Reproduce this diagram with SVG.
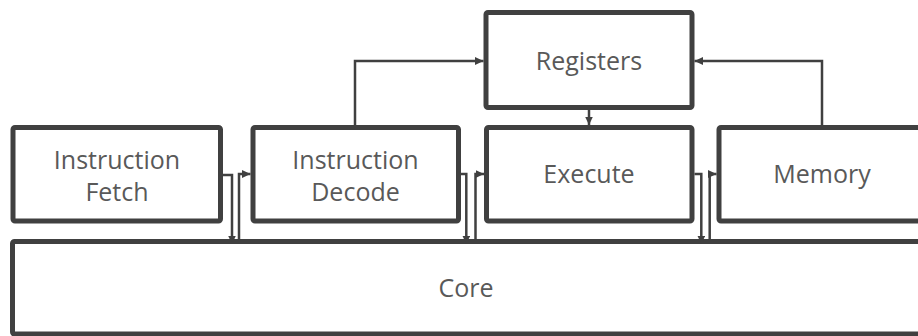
<svg xmlns="http://www.w3.org/2000/svg" width="918" height="336" viewBox="0 0 918 336">
  <style>
    .box { fill: #ffffff; stroke: #404040; stroke-width: 5; }
    .label { font-family: "Open Sans", "Noto Sans", "DejaVu Sans", sans-serif; font-size: 25px; fill: #595959; text-anchor: middle; }
    .wire { fill: none; stroke: #404040; stroke-width: 2.5; }
  </style>
  <defs>
    <marker id="arrow" markerUnits="userSpaceOnUse" markerWidth="9" markerHeight="8" refX="8.5" refY="4" orient="auto">
      <path d="M0,0 L8.5,4 L0,8 z" fill="#404040"/>
    </marker>
  </defs>

  <rect width="918" height="336" fill="#ffffff"/>

  <g id="core">
    <rect class="box" x="12.5" y="241.5" width="912" height="92.5" rx="2"/>
    <text class="label" x="466" y="297">Core</text>
  </g>

  <g id="registers">
    <rect class="box" x="486" y="12.5" width="206" height="95" rx="2"/>
    <text class="label" x="589" y="70">Registers</text>
  </g>

  <g id="instruction-fetch">
    <rect class="box" x="13" y="127.5" width="207.5" height="93.5" rx="2"/>
    <text class="label" x="117" y="169">Instruction</text>
    <text class="label" x="117" y="201">Fetch</text>
  </g>

  <g id="instruction-decode">
    <rect class="box" x="253" y="127.5" width="205.5" height="93.5" rx="2"/>
    <text class="label" x="355.5" y="169">Instruction</text>
    <text class="label" x="355.5" y="201">Decode</text>
  </g>

  <g id="execute">
    <rect class="box" x="486.5" y="127.5" width="205.5" height="93.5" rx="2"/>
    <text class="label" x="589" y="183">Execute</text>
  </g>

  <g id="memory">
    <rect class="box" x="719" y="127.5" width="206" height="93.5" rx="2"/>
    <text class="label" x="822" y="183">Memory</text>
  </g>

  <g id="connectors">
    <!-- decode reads registers -->
    <path class="wire" d="M355,125 V61 H483.5" marker-end="url(#arrow)"/>
    <!-- memory writes back to registers -->
    <path class="wire" d="M822,125 V61 H694.5" marker-end="url(#arrow)"/>
    <!-- registers feed execute -->
    <path class="wire" d="M589,110 V125" marker-end="url(#arrow)"/>

    <!-- fetch <-> core <-> decode -->
    <path class="wire" d="M223,175 H232 V244" marker-end="url(#arrow)"/>
    <path class="wire" d="M239,240 V174 H250.5" marker-end="url(#arrow)"/>

    <!-- decode <-> core <-> execute -->
    <path class="wire" d="M461,174 H466.3 V244" marker-end="url(#arrow)"/>
    <path class="wire" d="M475.5,240 V174 H484" marker-end="url(#arrow)"/>

    <!-- execute <-> core <-> memory -->
    <path class="wire" d="M694.5,174 H701.3 V244" marker-end="url(#arrow)"/>
    <path class="wire" d="M709.7,240 V174 H716.5" marker-end="url(#arrow)"/>
  </g>
</svg>
